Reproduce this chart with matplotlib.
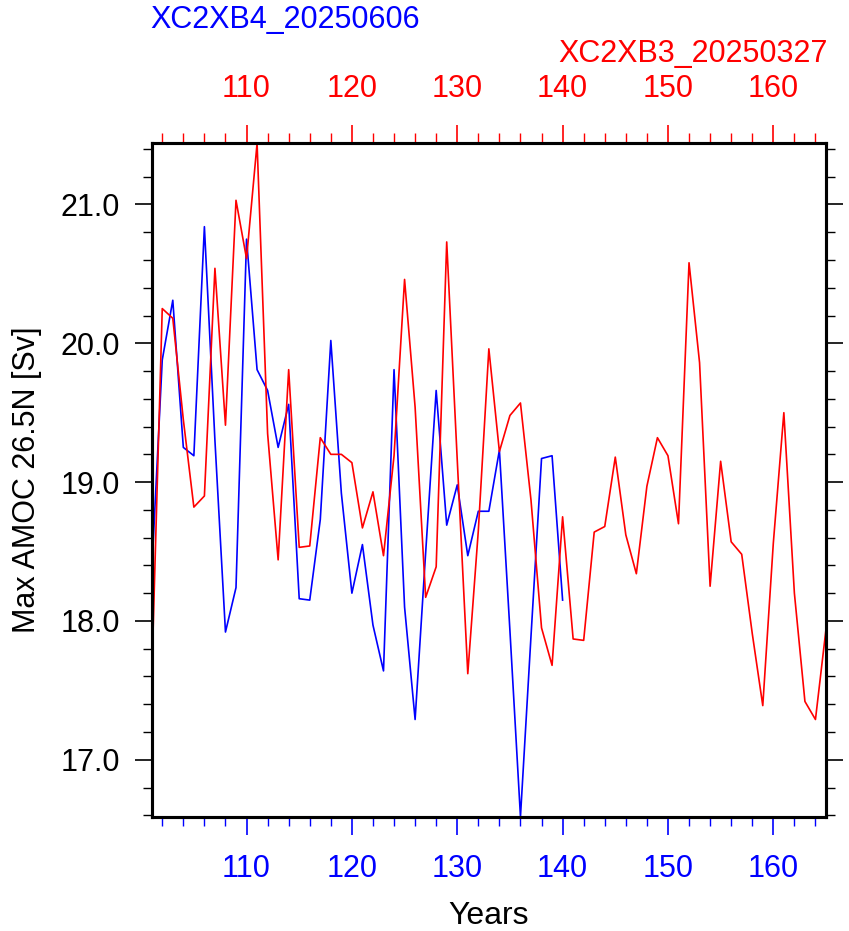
import matplotlib
matplotlib.use("Agg")
import matplotlib.pyplot as plt
from matplotlib.ticker import MultipleLocator, FixedLocator

plt.rcParams['font.family'] = ['Liberation Sans', 'DejaVu Sans']

# XC2XB3_20250327 (red), years 101-165
years_b3 = list(range(101, 166))
amoc_b3 = [17.58, 20.25, 20.18, 19.45, 18.82, 18.90, 20.54, 19.41, 21.03, 20.61,
           21.44, 19.35, 18.44, 19.81, 18.53, 18.54, 19.32, 19.20, 19.20, 19.14,
           18.67, 18.93, 18.47, 19.19, 20.46, 19.54, 18.17, 18.39, 20.73, 19.16,
           17.62, 18.65, 19.96, 19.22, 19.48, 19.57, 18.87, 17.95, 17.68, 18.75,
           17.87, 17.86, 18.64, 18.68, 19.18, 18.62, 18.34, 18.97, 19.32, 19.19,
           18.70, 20.58, 19.86, 18.25, 19.15, 18.57, 18.48, 17.91, 17.39, 18.56,
           19.50, 18.20, 17.42, 17.29, 17.94]

# XC2XB4_20250606 (blue), years 101-140
years_b4 = list(range(101, 141))
amoc_b4 = [18.35, 19.88, 20.31, 19.25, 19.19, 20.84, 19.30, 17.92, 18.24, 20.75,
           19.81, 19.66, 19.25, 19.56, 18.16, 18.15, 18.73, 20.02, 18.92, 18.20,
           18.55, 17.97, 17.64, 19.81, 18.10, 17.29, 18.49, 19.66, 18.69, 18.98,
           18.47, 18.79, 18.79, 19.23, 17.93, 16.59, 17.89, 19.17, 19.19, 18.15]

x_major = [110, 120, 130, 140, 150, 160]
y_major = [17.0, 18.0, 19.0, 20.0, 21.0]

fs = 22

fig = plt.figure(figsize=(8.49, 9.31), dpi=100)
ax = fig.add_axes([0.1787, 0.1228, 0.9729 - 0.1787, 0.846 - 0.1228])

ax.plot(years_b4, amoc_b4, color='blue', lw=1.2)
ax.plot(years_b3, amoc_b3, color='red', lw=1.2)

xmin, xmax = min(years_b3), max(years_b3)
ax.set_xlim(xmin, xmax)
ax.set_ylim(min(amoc_b3 + amoc_b4), max(amoc_b3 + amoc_b4))

for s in ax.spines.values():
    s.set_linewidth(2.2)

# bottom axis (blue)
ax.xaxis.set_major_locator(FixedLocator(x_major))
ax.xaxis.set_minor_locator(MultipleLocator(2))
ax.set_xticklabels([str(v) for v in x_major])
ax.tick_params(axis='x', which='major', direction='out', length=13, width=1.2,
               color='blue', labelcolor='blue', labelsize=fs, pad=14)
ax.tick_params(axis='x', which='minor', direction='out', length=6.5, width=1.0, color='blue')

# y axis, ticks both sides
ax.yaxis.set_major_locator(FixedLocator(y_major))
ax.yaxis.set_minor_locator(MultipleLocator(0.2))
ax.set_yticklabels(['%.1f' % v for v in y_major])
ax.tick_params(axis='y', which='both', direction='out', left=True, right=True,
               labelsize=fs, pad=11, width=1.2)
ax.tick_params(axis='y', which='major', length=12)
ax.tick_params(axis='y', which='minor', length=6.5, width=1.0)

# top axis (red)
ax2 = ax.twiny()
ax2.set_xlim(xmin, xmax)
ax2.xaxis.set_major_locator(FixedLocator(x_major))
ax2.xaxis.set_minor_locator(MultipleLocator(2))
ax2.set_xticklabels([str(v) for v in x_major])
ax2.tick_params(axis='x', which='major', direction='out', length=13, width=1.2,
                color='red', labelcolor='red', labelsize=fs, pad=15)
ax2.tick_params(axis='x', which='minor', direction='out', length=7, width=1.0, color='red')
for s in ax2.spines.values():
    s.set_linewidth(2.2)

ax.set_xlabel('Years', fontsize=23, labelpad=12)
ax.set_ylabel('Max AMOC 26.5N [Sv]', fontsize=22, labelpad=13)

fig.text(150 / 849, 1 - 28 / 931, 'XC2XB4_20250606', color='blue', fontsize=fs,
         ha='left', va='baseline')
fig.text(828 / 849, 1 - 62 / 931, 'XC2XB3_20250327', color='red', fontsize=fs,
         ha='right', va='baseline')

fig.savefig('out.png', dpi=100)
